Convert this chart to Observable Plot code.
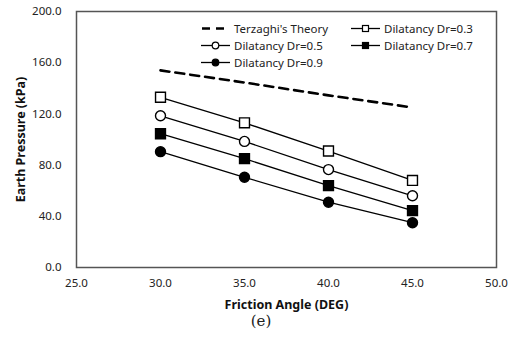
<!DOCTYPE html>
<html>
<head>
<meta charset="utf-8">
<script src="https://cdn.jsdelivr.net/npm/d3@7"></script>
<script src="https://cdn.jsdelivr.net/npm/@observablehq/plot@0.6"></script>
<style>
  body { margin: 0; background: #fff; }
  #wrap { position: relative; width: 514px; height: 343px; font-family: "Noto Sans", "DejaVu Sans", sans-serif; }
  #legend { position: absolute; left: 0; top: 0; }
  #caption { position: absolute; left: 0; width: 514px; top: 312px; text-align: center; font-family: "DejaVu Serif", "Liberation Serif", serif; font-size: 15px; color: #222; padding-left: 8px; box-sizing: border-box; }
</style>
</head>
<body>
<div id="wrap"><div id="chart"></div><svg id="legend" width="514" height="90"></svg><div id="caption">(e)</div></div>
<script>
const angles = [30, 35, 40, 45];
const terzaghi = [154, 144.5, 134.5, 125];
const dr03 = [133, 113, 91, 68];
const dr05 = [118.5, 98.5, 76.5, 56];
const dr07 = [104.5, 85, 64, 44.5];
const dr09 = [90.5, 70.5, 51, 35];
const xTicks = [25, 30, 35, 40, 45, 50];
const yTicks = [0, 40, 80, 120, 160, 200];

const seriesDefs = [
  {name: "Dilatancy Dr=0.3", values: dr03, symbol: "square", fill: "white", r: 5.6},
  {name: "Dilatancy Dr=0.5", values: dr05, symbol: "circle", fill: "white", r: 5},
  {name: "Dilatancy Dr=0.7", values: dr07, symbol: "square", fill: "black", r: 5.6},
  {name: "Dilatancy Dr=0.9", values: dr09, symbol: "circle", fill: "black", r: 5}
];
const terz = angles.map((a, i) => ({x: a, y: terzaghi[i]}));

const marks = [
  Plot.frame({stroke: "#555", strokeWidth: 1.5}),
  Plot.line(terz, {x: "x", y: "y", stroke: "black", strokeWidth: 2.6, strokeDasharray: "9,6"})
];
for (const s of seriesDefs) {
  const d = angles.map((a, i) => ({x: a, y: s.values[i]}));
  marks.push(Plot.line(d, {x: "x", y: "y", stroke: "black", strokeWidth: 1.3}));
  marks.push(Plot.dot(d, {x: "x", y: "y", symbol: () => s.symbol, r: s.r, fill: s.fill, stroke: "black", strokeWidth: 1.4}));
}

const chart = Plot.plot({
  width: 514,
  height: 318,
  marginLeft: 76,
  marginRight: 18,
  marginTop: 11,
  marginBottom: 51,
  style: {fontFamily: '"Noto Sans", "DejaVu Sans", sans-serif', fontSize: "11.5px", color: "#222", background: "white"},
  symbol: {type: "identity"},
  x: {domain: [25, 50], ticks: xTicks, tickFormat: d => d.toFixed(1), tickSize: 0, tickPadding: 11,
      label: "Friction Angle (DEG)", labelAnchor: "center", labelArrow: "none", labelOffset: 41},
  y: {domain: [0, 200], ticks: yTicks, tickFormat: d => d.toFixed(1), tickSize: 0, tickPadding: 15,
      label: "Earth Pressure (kPa)", labelAnchor: "center", labelArrow: "none", labelOffset: 60},
  marks
});
document.getElementById("chart").appendChild(chart);
// bold axis labels
d3.select(chart).selectAll("[aria-label='x-axis label'] text, [aria-label='y-axis label'] text")
  .style("font-weight", "bold").style("font-size", "12.5px").style("fill", "#111");

// Legend overlay
const legendItems = [
  {name: "Terzaghi's Theory", dash: true},
  {name: seriesDefs[0].name, s: seriesDefs[0]},
  {name: seriesDefs[1].name, s: seriesDefs[1]},
  {name: seriesDefs[2].name, s: seriesDefs[2]},
  {name: seriesDefs[3].name, s: seriesDefs[3]}
];
const lg = d3.select("#legend");
const colX = [201, 351];
const rowY = [28.5, 45.5, 62.5];
legendItems.forEach((it, i) => {
  const cx = colX[i % 2], cy = rowY[Math.floor(i / 2)];
  const g = lg.append("g").attr("transform", `translate(${cx},${cy})`);
  if (it.dash) {
    g.append("line").attr("x1", 1).attr("x2", 29).attr("y1", 0).attr("y2", 0)
      .attr("stroke", "black").attr("stroke-width", 2.6).attr("stroke-dasharray", "8,6");
  } else {
    g.append("line").attr("x1", 0).attr("x2", 29).attr("y1", 0).attr("y2", 0)
      .attr("stroke", "black").attr("stroke-width", 1.3);
    if (it.s.symbol === "square") {
      g.append("rect").attr("x", 11.5).attr("y", -3).attr("width", 6).attr("height", 6)
        .attr("fill", it.s.fill).attr("stroke", "black").attr("stroke-width", 1.2);
    } else {
      g.append("circle").attr("cx", 14.5).attr("cy", 0).attr("r", 3.3)
        .attr("fill", it.s.fill).attr("stroke", "black").attr("stroke-width", 1.2);
    }
  }
  g.append("text").attr("x", 33).attr("y", 0).attr("dy", "0.35em")
    .attr("font-size", "11.5px").attr("fill", "#222")
    .attr("font-family", '"Noto Sans", "DejaVu Sans", sans-serif').text(it.name);
});
</script>
</body>
</html>
